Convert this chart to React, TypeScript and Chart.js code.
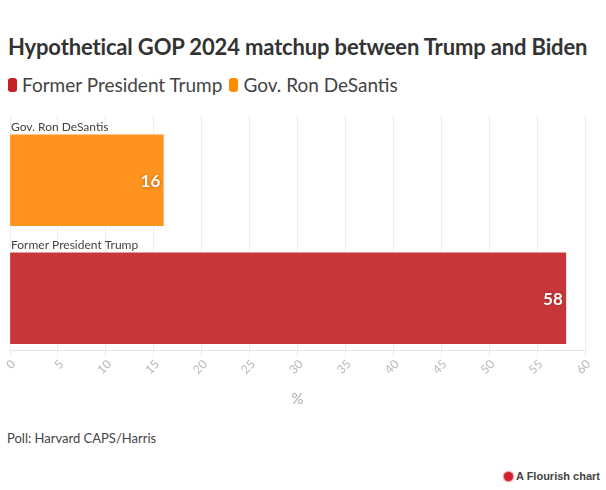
import React, { useEffect, useRef } from "react";
import { Chart, registerables } from "chart.js";

Chart.register(...registerables);

const TITLE = "Hypothetical GOP 2024 matchup between Trump and Biden";
const CATEGORIES = ["Gov. Ron DeSantis", "Former President Trump"];
const VALUES = [16, 58];
const BAR_COLORS = ["#fe931e", "#c8363a"];
const LEGEND_LABELS = ["Former President Trump", "Gov. Ron DeSantis"];
const LEGEND_COLORS = ["#c42026", "#ff8c00"];
const X_MIN = 0;
const X_MAX = 60;
const X_STEP = 5;
const AXIS_TITLE = "%";
const SOURCE = "Poll: Harvard CAPS/Harris";
const CREDIT = "A Flourish chart";

const FONT = "Lato, 'Noto Sans', sans-serif";

const barLabelPlugin = {
  id: "barLabels",
  afterDatasetsDraw(chart: any) {
    const ctx = chart.ctx;
    const meta = chart.getDatasetMeta(0);
    meta.data.forEach((bar: any, i: number) => {
      const { x, y, height } = bar.getProps(["x", "y", "height"], true);
      ctx.save();
      ctx.font = `12px ${FONT}`;
      ctx.fillStyle = "#444";
      ctx.textAlign = "left";
      ctx.textBaseline = "alphabetic";
      ctx.fillText(CATEGORIES[i], chart.chartArea.left + 1, y - height / 2 - 4);
      ctx.font = `bold 17px ${FONT}`;
      ctx.textAlign = "right";
      ctx.textBaseline = "middle";
      ctx.shadowColor = "rgba(90,20,0,0.45)";
      ctx.shadowBlur = 3;
      ctx.fillStyle = "#ffffff";
      ctx.fillText(String(VALUES[i]), x - 3, y + 1);
      ctx.restore();
    });
  },
};

function BarChart() {
  const ref = useRef<HTMLCanvasElement | null>(null);
  useEffect(() => {
    if (!ref.current) return;
    const chart = new Chart(ref.current, {
      type: "bar",
      data: {
        datasets: [
          {
            label: "Support",
            data: VALUES.map((v, i) => ({ x: v, y: i })),
            backgroundColor: BAR_COLORS,
            borderWidth: 0,
            barThickness: 91,
          },
        ],
      },
      options: {
        indexAxis: "y",
        animation: false,
        responsive: false,
        devicePixelRatio: 1,
        layout: { padding: { top: 15, left: 10, right: 15, bottom: 0 } },
        plugins: { legend: { display: false }, tooltip: { enabled: false } },
        scales: {
          y: {
            type: "linear",
            display: false,
            offset: false,
            reverse: true,
            min: -0.553,
            max: 1.447,
          },
          x: {
            type: "linear",
            min: X_MIN,
            max: X_MAX,
            grid: { color: "#eeeeee", tickLength: 6, drawTicks: true },
            border: { color: "#e4e4e4" },
            ticks: {
              stepSize: X_STEP,
              color: "#b8b8b8",
              font: { family: FONT, size: 12 },
              maxRotation: 45,
              minRotation: 45,
              padding: 0,
              labelOffset: 3.5,
            },
            title: {
              display: true,
              text: AXIS_TITLE,
              color: "#aaaaaa",
              font: { family: FONT, size: 15 },
              padding: { top: 13, bottom: 0 },
            },
          },
        },
      } as any,
      plugins: [barLabelPlugin],
    });
    return () => chart.destroy();
  }, []);
  return <canvas ref={ref} width={600} height={308} style={{ position: "absolute", left: 0, top: 100 }} />;
}

export default function App() {
  return (
    <div style={{ position: "absolute", left: 0, top: 0, width: 606, height: 490, background: "#fff", fontFamily: FONT, overflow: "hidden" }}>
      <div style={{ position: "absolute", left: 8, top: 33, fontSize: 22, fontWeight: 700, color: "#333", whiteSpace: "nowrap", letterSpacing: -0.15 }}>
        {TITLE}
      </div>
      <div style={{ position: "absolute", left: 8, top: 73, display: "flex", alignItems: "center", fontSize: 19, color: "#444", whiteSpace: "nowrap" }}>
        {LEGEND_LABELS.map((l, i) => (
          <span key={l} style={{ display: "inline-flex", alignItems: "center", marginRight: 7 }}>
            <span style={{ display: "inline-block", width: 9, height: 14, borderRadius: 3, background: LEGEND_COLORS[i], marginRight: 5 }} />
            {l}
          </span>
        ))}
      </div>
      <BarChart />
      <div style={{ position: "absolute", left: 7, top: 430, fontSize: 13, color: "#444" }}>{SOURCE}</div>
      <div style={{ position: "absolute", right: 6, top: 470, fontSize: 11, fontWeight: 700, color: "#444", fontFamily: "'Liberation Sans', Arial, sans-serif", display: "flex", alignItems: "center" }}>
        <span style={{ display: "inline-block", width: 9, height: 9, borderRadius: "50%", background: "#d0202e", marginRight: 3, boxShadow: "0 0 1px 1px rgba(208,32,46,0.5)" }} />
        {CREDIT}
      </div>
    </div>
  );
}
